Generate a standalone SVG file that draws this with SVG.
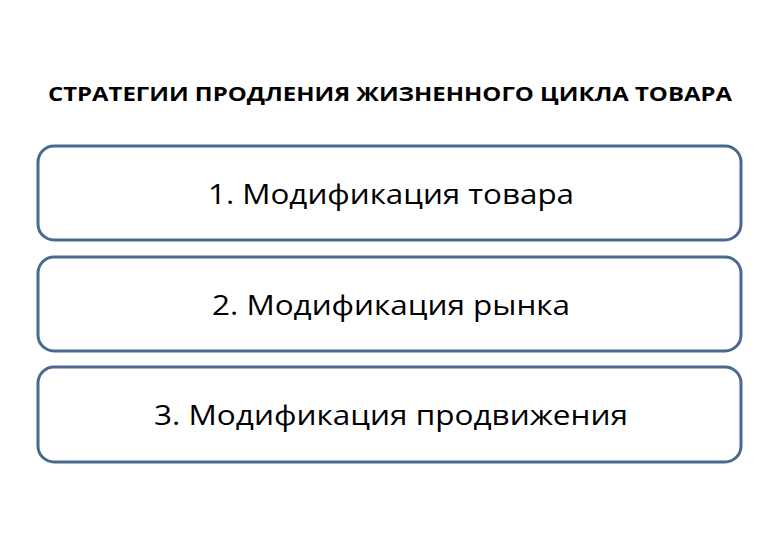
<svg xmlns="http://www.w3.org/2000/svg" width="780" height="540" viewBox="0 0 780 540">
<style>
.box{fill:#ffffff;stroke:#4a6890;stroke-width:3}
.t{font-family:"Open Sans","Liberation Sans",sans-serif;font-size:28px;fill:#000;text-anchor:middle}
.h{font-family:"Open Sans","Liberation Sans",sans-serif;font-size:19.5px;font-weight:bold;fill:#000;text-anchor:middle}
</style>
<rect width="780" height="540" fill="#ffffff"/>
<g id="title"><text class="h" x="390" y="101" textLength="684" lengthAdjust="spacingAndGlyphs">СТРАТЕГИИ ПРОДЛЕНИЯ ЖИЗНЕННОГО ЦИКЛА ТОВАРА</text></g>
<g id="connectors"></g>
<g id="node1"><rect class="box" x="38" y="146" width="703" height="94" rx="16"/><text class="t" x="391" y="204" textLength="366" lengthAdjust="spacingAndGlyphs">1. Модификация товара</text></g>
<g id="node2"><rect class="box" x="38" y="257" width="703" height="94" rx="16"/><text class="t" x="391" y="315" textLength="358" lengthAdjust="spacingAndGlyphs">2. Модификация рынка</text></g>
<g id="node3"><rect class="box" x="38" y="367" width="703" height="95" rx="16"/><text class="t" x="391" y="425" textLength="474" lengthAdjust="spacingAndGlyphs">3. Модификация продвижения</text></g>
</svg>
